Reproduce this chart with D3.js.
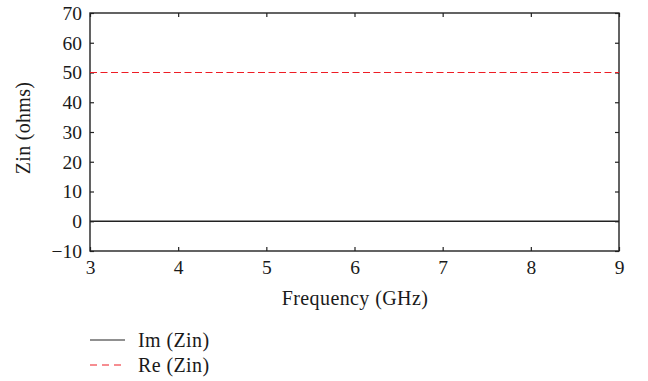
<!DOCTYPE html>
<html>
<head>
<meta charset="utf-8">
<script src="https://cdn.jsdelivr.net/npm/d3@7"></script>
<style>
  body { margin: 0; background: #fff; }
  text { font-family: "Liberation Serif", "DejaVu Serif", serif; fill: #1a1a1a; }
</style>
</head>
<body>
<svg id="chart" width="648" height="381"></svg>
<script>
// data
const freq = [3, 4, 5, 6, 7, 8, 9]
const imZin = [0, 0, 0, 0, 0, 0, 0]
const reZin = [50, 50, 50, 50, 50, 50, 50]
const xTicks = [3, 4, 5, 6, 7, 8, 9]
const yTicks = [-10, 0, 10, 20, 30, 40, 50, 60, 70]
const seriesNames = ['Im (Zin)', 'Re (Zin)']

const svg = d3.select('#chart')
const plotL = 90, plotR = 619, plotT = 13, plotB = 251
const fs = 19.5

const x = d3.scaleLinear().domain([3, 9]).range([plotL, plotR])
const y = d3.scaleLinear().domain([-10, 70]).range([plotB, plotT])

// ticks pointing inward on every side
svg.append('g').attr('transform', `translate(0,${plotB})`)
  .call(d3.axisBottom(x).tickValues(xTicks).tickSizeInner(-4).tickSizeOuter(0).tickPadding(9)
    .tickFormat(d3.format('d')))
svg.append('g').attr('transform', `translate(0,${plotT})`)
  .call(d3.axisTop(x).tickValues(xTicks).tickSizeInner(-4).tickSizeOuter(0).tickFormat(''))
svg.append('g').attr('transform', `translate(${plotL},0)`)
  .call(d3.axisLeft(y).tickValues(yTicks).tickSizeInner(-4).tickSizeOuter(0).tickPadding(8)
    .tickFormat(d => d < 0 ? '\u2212' + Math.abs(d) : d))
svg.append('g').attr('transform', `translate(${plotR},0)`)
  .call(d3.axisRight(y).tickValues(yTicks).tickSizeInner(-4).tickSizeOuter(0).tickFormat(''))

svg.selectAll('.tick text').attr('font-size', fs).attr('font-family', '"Liberation Serif", serif').attr('fill', '#1a1a1a')
svg.selectAll('.tick line').attr('stroke', '#222').attr('stroke-width', 1.2)
svg.selectAll('.domain').remove()

svg.append('rect')
  .attr('x', plotL).attr('y', plotT).attr('width', plotR - plotL).attr('height', plotB - plotT)
  .attr('fill', 'none').attr('stroke', '#222').attr('stroke-width', 1.4)

const line = d3.line().x((d, i) => x(freq[i])).y(d => y(d))

svg.append('path').datum(imZin)
  .attr('d', line).attr('fill', 'none').attr('stroke', '#222').attr('stroke-width', 1.4)
svg.append('path').datum(reZin)
  .attr('d', line).attr('fill', 'none').attr('stroke', '#ee1c24').attr('stroke-width', 1.2)
  .attr('stroke-dasharray', '7,3.5')

svg.append('text').attr('x', 355).attr('y', 305)
  .attr('text-anchor', 'middle').attr('font-size', 20).attr('letter-spacing', 0.4).text('Frequency (GHz)')
svg.append('text').attr('transform', `translate(30,128) rotate(-90)`)
  .attr('text-anchor', 'middle').attr('font-size', 20).attr('letter-spacing', 0.3).text('Zin (ohms)')

// legend
const legend = svg.append('g')
seriesNames.forEach((name, i) => {
  const ly = 340 + i * 25
  legend.append('line').attr('x1', 90).attr('x2', 125).attr('y1', ly).attr('y2', ly)
    .attr('stroke', i ? '#ee1c24' : '#222').attr('stroke-width', 1.2)
    .attr('stroke-dasharray', i ? '7,5' : null)
  legend.append('text').attr('x', 138).attr('y', ly + 7).attr('font-size', 20).attr('letter-spacing', 0.4).text(name)
})
</script>
</body>
</html>
